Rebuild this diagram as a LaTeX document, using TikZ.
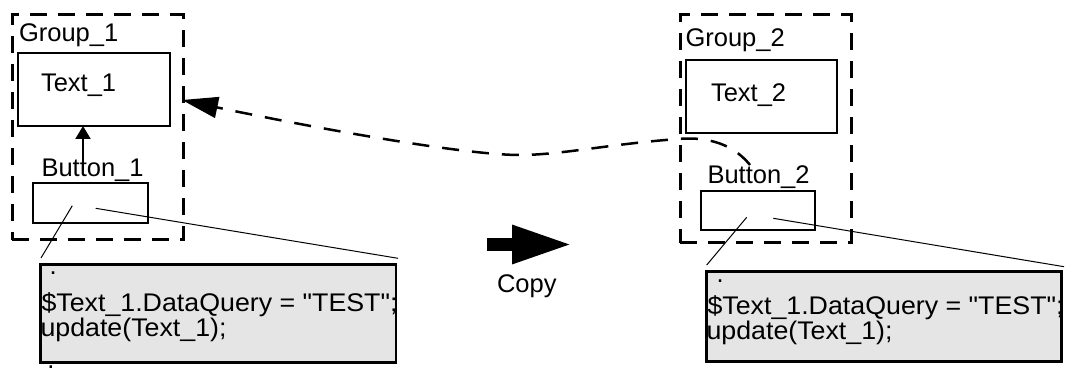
\documentclass[tikz,border=0pt]{standalone}
\usepackage{fontspec}
\setmainfont{Liberation Sans}
\newfontfamily\codefont{Liberation Sans}[FakeStretch=1.05]
\usetikzlibrary{arrows.meta}
\definecolor{codegray}{RGB}{229,229,229}
\tikzset{
  every node/.style={font=\fontsize{25.5}{30}\selectfont, inner sep=0pt, outer sep=0pt},
  groupbox/.style={draw, line width=3pt, dash pattern=on 17pt off 11pt, anchor=north west},
  plainbox/.style={draw, line width=2pt, anchor=north west},
  codebox/.style={draw, line width=2.5pt, fill=codegray, anchor=north west},
  lbl/.style={anchor=base west},
  codetxt/.style={anchor=base west, font=\fontsize{25.5}{30}\codefont},
  thinline/.style={line width=1pt},
  linkarrow/.style={line width=2.5pt, dash pattern=on 17pt off 13pt, -{Triangle[length=36pt,width=21pt]}},
  smallarrow/.style={line width=2pt, -{Triangle[length=13pt,width=15pt]}},
  copyarrow/.style={line width=12pt, -{Triangle[length=60pt,width=36pt]}},
}
\begin{document}
\begin{tikzpicture}[x=1pt,y=-1pt]
\useasboundingbox (0,0) rectangle (1067,371);
% left group
\node[groupbox, minimum width=171pt, minimum height=225pt] (g1) at (12,15) {};
\node[lbl] (g1l) at (19,42) {Group\_1};
\node[plainbox, minimum width=151.7pt, minimum height=72.7pt] (t1) at (18.3,53.3) {};
\node[lbl] (t1l) at (41,91.7) {Text\_1};
\node[lbl] (b1l) at (41.5,176.7) {Button\_1};
\node[plainbox, minimum width=114.4pt, minimum height=39.4pt] (b1) at (33.3,183.3) {};
\coordinate (a1) at (83,170);
\draw[smallarrow] (a1) -- (a1 |- t1.south);
\node[codebox, minimum width=355.3pt, minimum height=98pt] (c1) at (40.7,264.3) {};
\node[lbl] (c1d1) at (49.5,274) {.};
\node[codetxt] (c1a) at (41.5,311.7) {\$Text\_1.DataQuery = "TEST";};
\node[codetxt] (c1b) at (40.5,336.7) {update(Text\_1);};
\node[anchor=center] (c1d2) at (51,367.5) {.};
\coordinate (b1p) at (72.3,205.7);
\coordinate (b1q) at (41,258);
\coordinate (b1r) at (95.7,208.3);
\coordinate (b1s) at (398,258.3);
\draw[thinline] (b1p) -- (b1q);
\draw[thinline] (b1r) -- (b1s);
% copy arrow
\coordinate (cs) at (487,244.5);
\coordinate (ce) at (572,244.5);
\draw[copyarrow] (cs) -- (ce);
\node[lbl] (copy) at (497,292) {Copy};
% right group
\node[groupbox, minimum width=171pt, minimum height=227.7pt] (g2) at (680,15) {};
\node[lbl] (g2l) at (685.5,46.7) {Group\_2};
\node[plainbox, minimum width=151pt, minimum height=72.7pt] (t2) at (685.7,60) {};
\node[lbl] (t2l) at (711,101.7) {Text\_2};
\node[lbl] (b2l) at (707.5,183.3) {Button\_2};
\node[plainbox, minimum width=114.3pt, minimum height=39pt] (b2) at (700.7,191) {};
\node[codebox, minimum width=355pt, minimum height=90pt] (c2) at (706.7,271.7) {};
\node[lbl] (c2d1) at (716.5,282) {.};
\node[codetxt] (c2a) at (707.5,314) {\$Text\_1.DataQuery = "TEST";};
\node[codetxt] (c2b) at (706.5,339) {update(Text\_1);};
\coordinate (b2p) at (746.7,217.3);
\coordinate (b2q) at (706.7,265);
\coordinate (b2r) at (773.3,218.3);
\coordinate (b2s) at (1064,266.7);
\draw[thinline] (b2p) -- (b2q);
\draw[thinline] (b2r) -- (b2s);
% dashed link
\coordinate (ls) at (750,165);
\coordinate (lm1) at (678,139);
\coordinate (lm2) at (520,155);
\coordinate (le) at (182,100);
\draw[linkarrow] (ls) .. controls (730,140) and (700,137) .. (lm1)
  .. controls (610,144) and (560,155) .. (lm2)
  .. controls (460,155) and (300,125) .. (le);
\end{tikzpicture}
\end{document}
